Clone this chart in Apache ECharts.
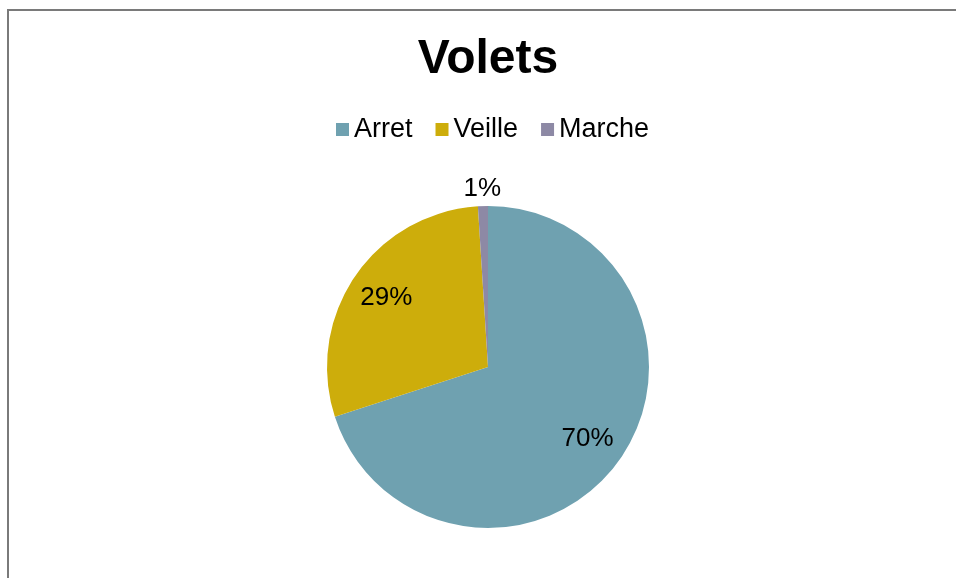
<!DOCTYPE html>
<html>
<head>
<meta charset="utf-8">
<script src="https://cdn.jsdelivr.net/npm/echarts@6/dist/echarts.min.js"></script>
<style>
  html, body { margin: 0; padding: 0; background: #fff; }
  #frame {
    position: absolute; left: 7px; top: 9px; width: 960px; height: 580px;
    border-left: 2px solid #7a7a7a; border-top: 2px solid #7a7a7a;
  }
  #chart { position: absolute; left: 0; top: 0; width: 956px; height: 578px; }
</style>
</head>
<body>
<div id="frame"></div>
<div id="chart"></div>
<script>
// Volets : part du temps par état
const categories = ['Arret', 'Veille', 'Marche']
const values = [70, 29, 1]
const colors = ['#6fa1b0', '#cdad0b', '#8d89a5']

const center = [488, 367]
const r = 161
const font = 'Liberation Sans, Arial, sans-serif'

const pieData = categories.map((name, i) => ({ name, value: values[i] }))

const myChart = echarts.init(document.getElementById('chart'))

const option = {
    animation: false,
    color: colors,
    title: {
        text: 'Volets',
        left: 483,
        textAlign: 'center',
        top: 31,
        textStyle: {
            fontFamily: font,
            fontSize: 48,
            fontWeight: 'bold',
            color: '#000',
        },
    },
    legend: {
        data: categories,
        top: 111,
        left: 331,
        icon: 'rect',
        itemWidth: 13,
        itemHeight: 13,
        itemGap: 23,
        textStyle: {
            fontFamily: font,
            fontSize: 27,
            color: '#000',
        },
    },
    series: [
        {
            // les secteurs
            type: 'pie',
            center,
            radius: [0, r],
            startAngle: 90,
            clockwise: true,
            silent: true,
            label: { show: false },
            labelLine: { show: false },
            data: pieData,
        },
        {
            // étiquettes internes (70 %, 29 %)
            type: 'pie',
            center,
            radius: [79, r],
            startAngle: 90,
            silent: true,
            legendHoverLink: false,
            itemStyle: { color: 'rgba(0,0,0,0)' },
            labelLine: { show: false },
            label: {
                show: true,
                position: 'inside',
                fontFamily: font,
                fontSize: 26,
                color: '#000',
                formatter: p => (p.dataIndex < 2 ? p.value + '%' : ''),
            },
            data: pieData,
        },
        {
            // étiquette extérieure (1 %)
            type: 'pie',
            center,
            radius: [r, 189],
            startAngle: 90,
            silent: true,
            legendHoverLink: false,
            itemStyle: { color: 'rgba(0,0,0,0)' },
            labelLine: { show: false },
            label: {
                show: true,
                position: 'inside',
                fontFamily: font,
                fontSize: 26,
                color: '#000',
                formatter: p => (p.dataIndex === 2 ? p.value + '%' : ''),
            },
            data: pieData,
        },
    ],
}

myChart.setOption(option)
</script>
</body>
</html>
